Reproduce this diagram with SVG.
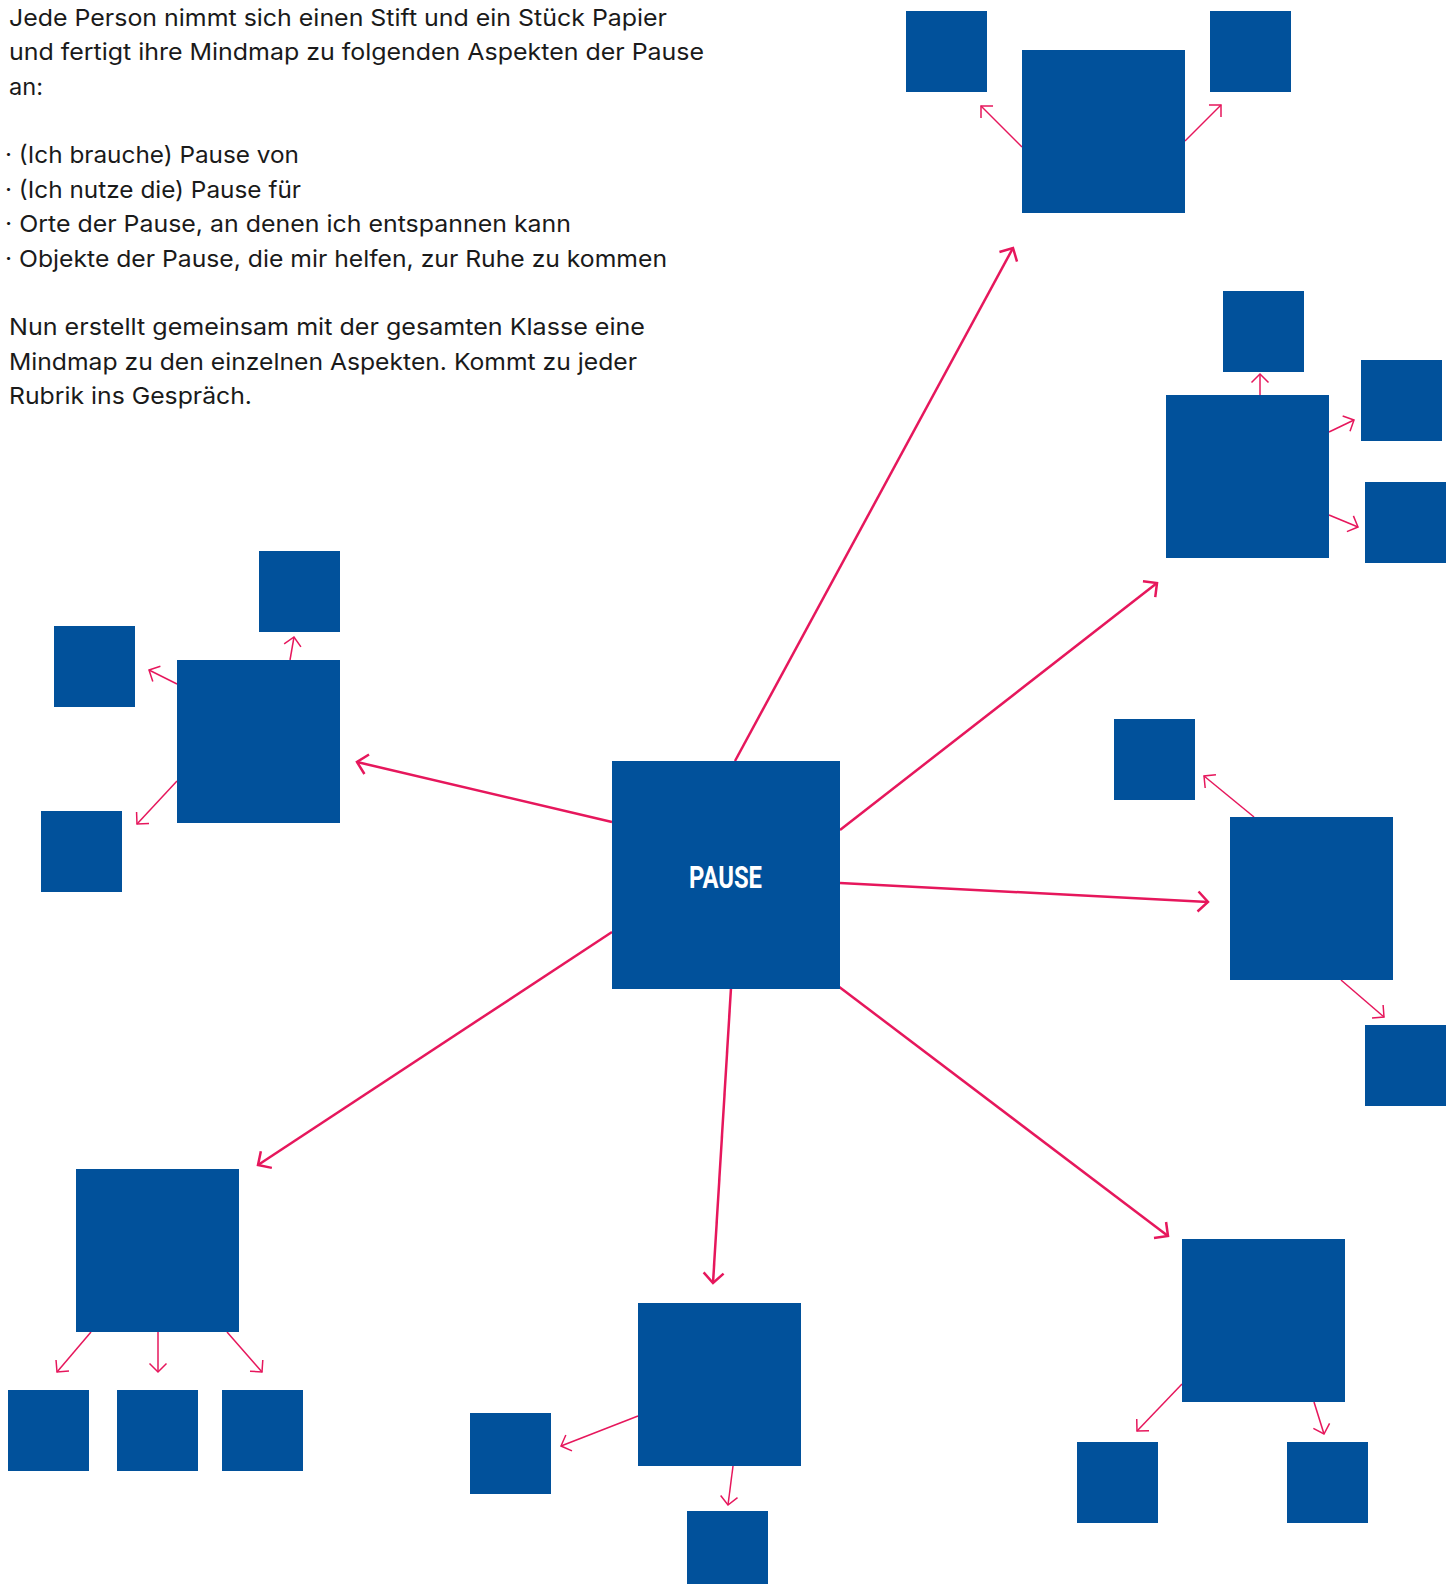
<svg xmlns="http://www.w3.org/2000/svg" width="1456" height="1584" viewBox="0 0 1456 1584">
<style>
.t{font-family:Inter,"Liberation Sans",sans-serif;font-size:23.5px;fill:#1a1a1a}
.n{fill:#01519B}
.big{stroke:#E6175C;stroke-width:2.5;fill:none}
.sm{stroke:#E6175C;stroke-width:1.5;fill:none}
.lbl{font-family:Roboto,"Liberation Sans",sans-serif;font-weight:bold;font-size:31px;fill:#fff}
</style>
<defs>
<marker id="ab" markerUnits="userSpaceOnUse" viewBox="-16 -16 32 32" markerWidth="32" markerHeight="32" refX="0" refY="0" orient="auto">
<path d="M-10,-10 L0,0 L-10,10" fill="none" stroke="#E6175C" stroke-width="2.5"/>
</marker>
<marker id="as" markerUnits="userSpaceOnUse" viewBox="-16 -16 32 32" markerWidth="32" markerHeight="32" refX="0" refY="0" orient="auto">
<path d="M-8.5,-8.5 L0,0 L-8.5,8.5" fill="none" stroke="#E6175C" stroke-width="1.5"/>
</marker>
</defs>
<rect width="1456" height="1584" fill="#fff"/>
<g id="text">
<text class="t" x="9" y="26" textLength="658" lengthAdjust="spacingAndGlyphs">Jede Person nimmt sich einen Stift und ein Stück Papier</text>
<text class="t" x="9" y="60" textLength="695" lengthAdjust="spacingAndGlyphs">und fertigt ihre Mindmap zu folgenden Aspekten der Pause</text>
<text class="t" x="9" y="95" textLength="34" lengthAdjust="spacingAndGlyphs">an:</text>
<text class="t" x="5" y="163" textLength="294" lengthAdjust="spacingAndGlyphs">· (Ich brauche) Pause von</text>
<text class="t" x="5" y="198" textLength="296" lengthAdjust="spacingAndGlyphs">· (Ich nutze die) Pause für</text>
<text class="t" x="5" y="232" textLength="566" lengthAdjust="spacingAndGlyphs">· Orte der Pause, an denen ich entspannen kann</text>
<text class="t" x="5" y="267" textLength="662" lengthAdjust="spacingAndGlyphs">· Objekte der Pause, die mir helfen, zur Ruhe zu kommen</text>
<text class="t" x="9" y="335" textLength="636" lengthAdjust="spacingAndGlyphs">Nun erstellt gemeinsam mit der gesamten Klasse eine</text>
<text class="t" x="9" y="370" textLength="628" lengthAdjust="spacingAndGlyphs">Mindmap zu den einzelnen Aspekten. Kommt zu jeder</text>
<text class="t" x="9" y="404" textLength="243" lengthAdjust="spacingAndGlyphs">Rubrik ins Gespräch.</text>
</g>
<g id="connectors">
<line class="big" x1="735" y1="761" x2="1013" y2="248" marker-end="url(#ab)"/>
<line class="big" x1="840" y1="830" x2="1157" y2="583" marker-end="url(#ab)"/>
<line class="big" x1="840" y1="883" x2="1208" y2="902" marker-end="url(#ab)"/>
<line class="big" x1="838" y1="986" x2="1168" y2="1236" marker-end="url(#ab)"/>
<line class="big" x1="731" y1="988" x2="713" y2="1283" marker-end="url(#ab)"/>
<line class="big" x1="612" y1="932" x2="258" y2="1165" marker-end="url(#ab)"/>
<line class="big" x1="612" y1="822" x2="357" y2="762" marker-end="url(#ab)"/>
<line class="sm" x1="1022" y1="147" x2="981" y2="106" marker-end="url(#as)"/>
<line class="sm" x1="1185" y1="141" x2="1221" y2="105" marker-end="url(#as)"/>
<line class="sm" x1="1260" y1="395" x2="1260" y2="374" marker-end="url(#as)"/>
<line class="sm" x1="1329" y1="432" x2="1354" y2="420" marker-end="url(#as)"/>
<line class="sm" x1="1329" y1="515" x2="1358" y2="527" marker-end="url(#as)"/>
<line class="sm" x1="1254" y1="817" x2="1204" y2="776" marker-end="url(#as)"/>
<line class="sm" x1="1341" y1="980" x2="1384" y2="1017" marker-end="url(#as)"/>
<line class="sm" x1="1182" y1="1384" x2="1137" y2="1431" marker-end="url(#as)"/>
<line class="sm" x1="1314" y1="1402" x2="1324" y2="1434" marker-end="url(#as)"/>
<line class="sm" x1="638" y1="1416" x2="561" y2="1446" marker-end="url(#as)"/>
<line class="sm" x1="733" y1="1466" x2="728" y2="1505" marker-end="url(#as)"/>
<line class="sm" x1="91" y1="1332" x2="57" y2="1372" marker-end="url(#as)"/>
<line class="sm" x1="158" y1="1332" x2="158" y2="1372" marker-end="url(#as)"/>
<line class="sm" x1="227" y1="1332" x2="262" y2="1372" marker-end="url(#as)"/>
<line class="sm" x1="290" y1="660" x2="294" y2="637" marker-end="url(#as)"/>
<line class="sm" x1="177" y1="684" x2="149" y2="670" marker-end="url(#as)"/>
<line class="sm" x1="177" y1="781" x2="137" y2="824" marker-end="url(#as)"/>
</g>
<g id="pause"><rect class="n" x="612" y="761" width="228" height="228"/><text class="lbl" x="689" y="888" textLength="73" lengthAdjust="spacingAndGlyphs">PAUSE</text></g>
<g id="tr-main"><rect class="n" x="1022" y="50" width="163" height="163"/></g>
<g id="tr-a"><rect class="n" x="906" y="11" width="81" height="81"/></g>
<g id="tr-b"><rect class="n" x="1210" y="11" width="81" height="81"/></g>
<g id="r1-main"><rect class="n" x="1166" y="395" width="163" height="163"/></g>
<g id="r1-a"><rect class="n" x="1223" y="291" width="81" height="81"/></g>
<g id="r1-b"><rect class="n" x="1361" y="360" width="81" height="81"/></g>
<g id="r1-c"><rect class="n" x="1365" y="482" width="81" height="81"/></g>
<g id="r2-main"><rect class="n" x="1230" y="817" width="163" height="163"/></g>
<g id="r2-a"><rect class="n" x="1114" y="719" width="81" height="81"/></g>
<g id="r2-b"><rect class="n" x="1365" y="1025" width="81" height="81"/></g>
<g id="br-main"><rect class="n" x="1182" y="1239" width="163" height="163"/></g>
<g id="br-a"><rect class="n" x="1077" y="1442" width="81" height="81"/></g>
<g id="br-b"><rect class="n" x="1287" y="1442" width="81" height="81"/></g>
<g id="b-main"><rect class="n" x="638" y="1303" width="163" height="163"/></g>
<g id="b-a"><rect class="n" x="470" y="1413" width="81" height="81"/></g>
<g id="b-b"><rect class="n" x="687" y="1511" width="81" height="81"/></g>
<g id="bl-main"><rect class="n" x="76" y="1169" width="163" height="163"/></g>
<g id="bl-a"><rect class="n" x="8" y="1390" width="81" height="81"/></g>
<g id="bl-b"><rect class="n" x="117" y="1390" width="81" height="81"/></g>
<g id="bl-c"><rect class="n" x="222" y="1390" width="81" height="81"/></g>
<g id="l-main"><rect class="n" x="177" y="660" width="163" height="163"/></g>
<g id="l-a"><rect class="n" x="259" y="551" width="81" height="81"/></g>
<g id="l-b"><rect class="n" x="54" y="626" width="81" height="81"/></g>
<g id="l-c"><rect class="n" x="41" y="811" width="81" height="81"/></g>
</svg>
